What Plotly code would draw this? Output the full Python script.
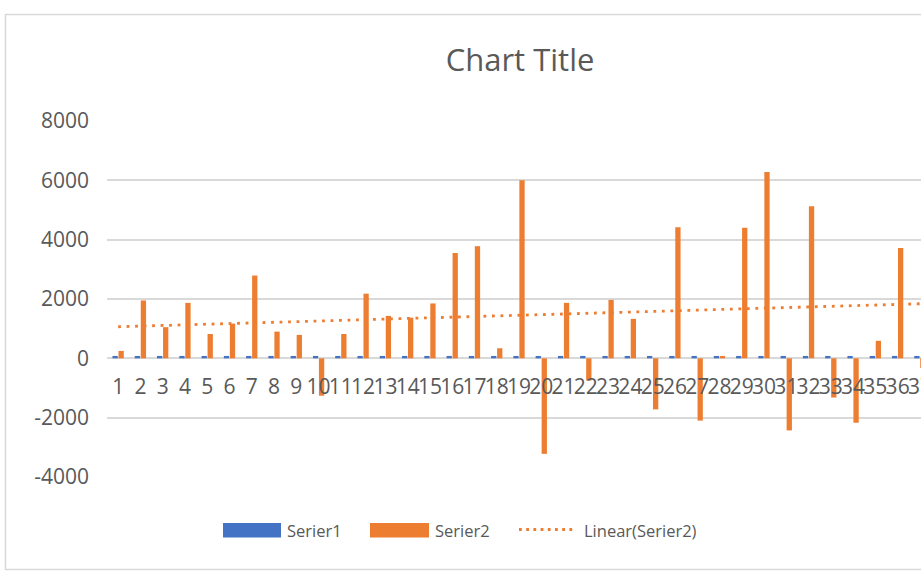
import plotly.graph_objects as go

# ---- data ----
categories = list(range(1, 38))
serier1 = [80] * 37
serier2 = [250, 1950, 1050, 1870, 820, 1170, 2790, 900, 790, -1260,
           820, 2180, 1430, 1370, 1850, 3550, 3780, 340, 6000, -3220,
           1870, -750, 1970, 1330, -1720, 4420, -2100, 80, 4400, 6280,
           -2430, 5130, -1320, -2170, 590, 3720, -330]
trend_x = [1, 37]
trend_y = [1065, 1840]
y_ticks = [-4000, -2000, 0, 2000, 4000, 6000, 8000]
y_tick_labels = ["-4000", "-2000", "0", "2000", "4000", "6000", "8000"]

BLUE = "#4472C4"
ORANGE = "#ED7D31"
TEXT = "#595959"
GRID = "#D9D9D9"
FONT = "Open Sans"

W, H = 921, 572
L, R, T, B = 107, 0, 121, 95


def px_x(px):
    return (px - L) / (W - L - R)


def px_y(py):
    return (H - B - py) / (H - T - B)


fig = go.Figure()
fig.add_trace(go.Bar(x=categories, y=serier1, name="Serier1", marker_color=BLUE,
                     marker_line_width=0))
fig.add_trace(go.Bar(x=categories, y=serier2, name="Serier2", marker_color=ORANGE,
                     marker_line_width=0))
fig.add_trace(go.Scatter(x=trend_x, y=trend_y, mode="lines", name="Linear(Serier2)",
                         line=dict(color=ORANGE, width=2.8, dash="2.8px,5.7px")))

shapes = []
annotations = []
# chart border
shapes.append(dict(type="rect", xref="paper", yref="paper",
                   x0=px_x(5.5), x1=px_x(960), y0=px_y(14.5), y1=px_y(569.5),
                   line=dict(color=GRID, width=1.6), fillcolor="rgba(0,0,0,0)", layer="below"))
# custom legend
shapes.append(dict(type="rect", xref="paper", yref="paper", x0=px_x(223), x1=px_x(281),
                   y0=px_y(537.5), y1=px_y(523), fillcolor=BLUE, line_width=0))
shapes.append(dict(type="rect", xref="paper", yref="paper", x0=px_x(370), x1=px_x(429),
                   y0=px_y(537.5), y1=px_y(523), fillcolor=ORANGE, line_width=0))
shapes.append(dict(type="line", xref="paper", yref="paper", x0=px_x(519), x1=px_x(576),
                   y0=px_y(529.5), y1=px_y(529.5),
                   line=dict(color=ORANGE, width=2.8, dash="2.8px,4.4px")))
for label, xpx in [("Serier1", 285), ("Serier2", 433), ("Linear(Serier2)", 582)]:
    annotations.append(dict(text=label, xref="paper", yref="paper", x=px_x(xpx),
                            y=px_y(530), xanchor="left", yanchor="middle", showarrow=False,
                            font=dict(family=FONT, size=16.5, color=TEXT)))

fig.update_layout(
    width=W, height=H, autosize=False,
    margin=dict(l=L, r=R, t=T, b=B, pad=0, autoexpand=False),
    paper_bgcolor="white", plot_bgcolor="white",
    showlegend=False,
    barmode="group", bargap=0.46, bargroupgap=0.12,
    title=dict(text="Chart Title", x=520 / W, xref="container", xanchor="center",
               y=1 - 60 / H, yref="container", yanchor="middle",
               font=dict(family=FONT, size=31, color=TEXT)),
    font=dict(family=FONT, color=TEXT),
    shapes=shapes, annotations=annotations,
)
fig.update_xaxes(range=[0.5, 37.05], tickmode="array", tickvals=categories,
                 ticktext=[str(c) for c in categories], tickangle=0,
                 ticklabeloverflow="allow", automargin=False,
                 anchor="free", position=px_y(358.3), showgrid=False, showline=False,
                 zeroline=False, ticks="", ticklabelstandoff=14,
                 tickfont=dict(family=FONT, size=21, color=TEXT))
fig.update_yaxes(range=[-4000, 8000], tickmode="array", tickvals=y_ticks,
                 ticktext=y_tick_labels, automargin=False,
                 showgrid=True, gridcolor=GRID, gridwidth=1.5,
                 zeroline=True, zerolinecolor=GRID, zerolinewidth=2.2,
                 showline=False, ticks="", ticklabelstandoff=17,
                 tickfont=dict(family=FONT, size=21, color=TEXT))

fig.write_html("out.html", config={"displayModeBar": False},
               post_script="document.body.style.margin='0';document.body.style.overflow='hidden';")
